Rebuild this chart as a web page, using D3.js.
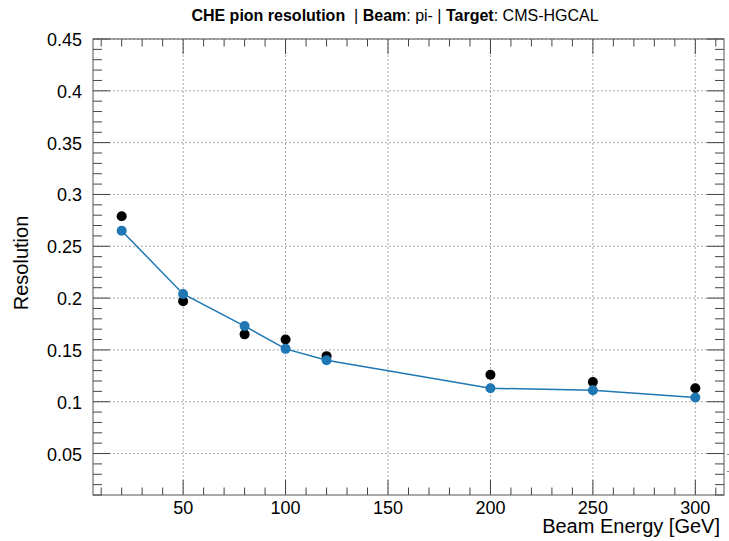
<!DOCTYPE html>
<html>
<head>
<meta charset="utf-8">
<script src="https://cdn.jsdelivr.net/npm/d3@7"></script>
<style>
  body { margin: 0; background: #fff; }
  svg { display: block; font-family: "Liberation Sans", Arial, sans-serif; }
</style>
</head>
<body>
<div id="chart"></div>
<script>
/* =========================
   DATA
   ========================= */

const energies = [20, 50, 80, 100, 120, 200, 250, 300];
const resBlack = [0.279, 0.197, 0.165, 0.160, 0.144, 0.126, 0.119, 0.113];
const resBlue  = [0.265, 0.204, 0.173, 0.151, 0.140, 0.113, 0.111, 0.104];
const xTicks = [50, 100, 150, 200, 250, 300];
const yTicks = [0.05, 0.1, 0.15, 0.2, 0.25, 0.3, 0.35, 0.4, 0.45];

/* =========================
   CONFIGURATION
   ========================= */

const WIDTH = 729;
const HEIGHT = 541;
const margin = { top: 39, right: 5, bottom: 46, left: 93 };
const plotW = WIDTH - margin.left - margin.right;
const plotH = HEIGHT - margin.top - margin.bottom;

const x = d3.scaleLinear().domain([6, 314]).range([0, plotW]);
const y = d3.scaleLinear().domain([0.01, 0.45]).range([plotH, 0]);

const svg = d3.select("#chart")
  .append("svg")
  .attr("width", WIDTH)
  .attr("height", HEIGHT);

const g = svg.append("g")
  .attr("transform", `translate(${margin.left},${margin.top})`);

/* =========================
   GRID
   ========================= */

g.append("g")
  .selectAll("line")
  .data(xTicks)
  .join("line")
  .attr("x1", d => x(d)).attr("x2", d => x(d))
  .attr("y1", 0).attr("y2", plotH)
  .attr("stroke", "#a8a8a8")
  .attr("stroke-dasharray", "2 2");

g.append("g")
  .selectAll("line")
  .data(yTicks)
  .join("line")
  .attr("x1", 0).attr("x2", plotW)
  .attr("y1", d => y(d)).attr("y2", d => y(d))
  .attr("stroke", "#a8a8a8")
  .attr("stroke-dasharray", "2 2");

/* =========================
   AXES (ROOT style, ticks inside)
   ========================= */

const xMinor = d3.range(10, 314, 10);
const yMinor = d3.range(0.01, 0.4501, 0.01);

const tickColor = "#444";

// bottom + top
[[plotH, -1], [0, 1]].forEach(([yy, dir]) => {
  g.append("g").selectAll("line")
    .data(xMinor)
    .join("line")
    .attr("x1", d => x(d)).attr("x2", d => x(d))
    .attr("y1", yy)
    .attr("y2", d => yy + dir * (d % 50 === 0 ? 15 : 7.5))
    .attr("stroke", tickColor);
});

// left + right
[[0, 1], [plotW, -1]].forEach(([xx, dir]) => {
  g.append("g").selectAll("line")
    .data(yMinor)
    .join("line")
    .attr("y1", d => y(d)).attr("y2", d => y(d))
    .attr("x1", xx)
    .attr("x2", (d, i) => xx + dir * ((i + 1) % 5 === 0 ? 17 : 9))
    .attr("stroke", tickColor);
});

// frame
g.append("rect")
  .attr("width", plotW)
  .attr("height", plotH)
  .attr("fill", "none")
  .attr("stroke", "#555");

// tick labels
g.append("g").selectAll("text")
  .data(xTicks)
  .join("text")
  .attr("x", d => x(d))
  .attr("y", plotH + 19)
  .attr("text-anchor", "middle")
  .attr("font-size", 18)
  .text(d => d);

g.append("g").selectAll("text")
  .data(yTicks)
  .join("text")
  .attr("x", -11)
  .attr("y", d => y(d) + 7)
  .attr("text-anchor", "end")
  .attr("font-size", 18)
  .text(d => d3.format("~g")(d));

/* =========================
   SERIES
   ========================= */

const blue = "#1f77b4";

const line = d3.line()
  .x(d => x(d[0]))
  .y(d => y(d[1]));

g.append("path")
  .datum(d3.zip(energies, resBlue))
  .attr("d", line)
  .attr("fill", "none")
  .attr("stroke", blue)
  .attr("stroke-width", 1.5);

g.append("g").selectAll("circle")
  .data(d3.zip(energies, resBlack))
  .join("circle")
  .attr("cx", d => x(d[0]))
  .attr("cy", d => y(d[1]))
  .attr("r", 5)
  .attr("fill", "#000");

g.append("g").selectAll("circle")
  .data(d3.zip(energies, resBlue))
  .join("circle")
  .attr("cx", d => x(d[0]))
  .attr("cy", d => y(d[1]))
  .attr("r", 5)
  .attr("fill", blue);

/* =========================
   TITLES
   ========================= */

const title = svg.append("text")
  .attr("x", 395)
  .attr("y", 21)
  .attr("text-anchor", "middle")
  .attr("font-size", 16);
title.append("tspan").attr("font-weight", "bold").text("CHE pion resolution");
title.append("tspan").attr("xml:space", "preserve").text("  | ");
title.append("tspan").attr("font-weight", "bold").text("Beam");
title.append("tspan").text(": pi- | ");
title.append("tspan").attr("font-weight", "bold").text("Target");
title.append("tspan").text(": CMS-HGCAL");

svg.append("text")
  .attr("x", 720)
  .attr("y", 533)
  .attr("text-anchor", "end")
  .attr("font-size", 20)
  .text("Beam Energy [GeV]");

svg.append("text")
  .attr("transform", "translate(28,263) rotate(-90)")
  .attr("text-anchor", "middle")
  .attr("font-size", 20)
  .text("Resolution");

// stray marks at the right edge of the original canvas
svg.append("g").selectAll("rect")
  .data([419, 454, 471])
  .join("rect")
  .attr("x", 727).attr("y", d => d)
  .attr("width", 2).attr("height", 1)
  .attr("fill", "#888");
</script>
</body>
</html>
